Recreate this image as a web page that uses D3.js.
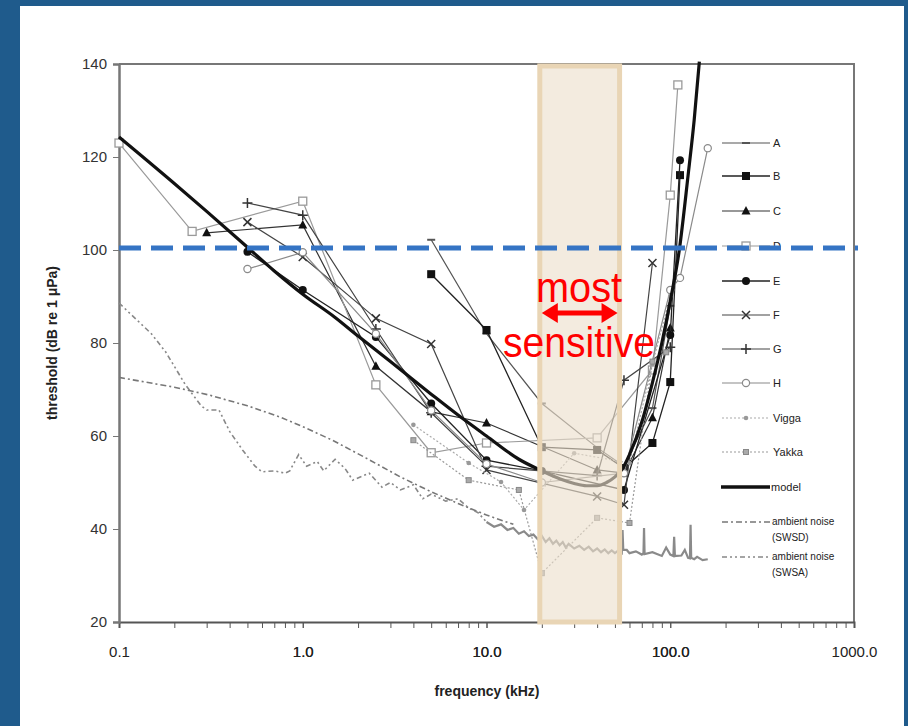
<!DOCTYPE html>
<html><head><meta charset="utf-8">
<script src="https://cdn.jsdelivr.net/npm/d3@7"></script>
<style>html,body{margin:0;padding:0;background:#1f5b8c;}svg{display:block}</style>
</head><body>
<svg id="c" width="908" height="726"></svg>
<script>
// ---- data (frequency kHz, threshold dB) ----
const seriesNames = ["A","B","C","D","E","F","G","H","Vigga","Yakka"];
const A = [[5,102.2],[10,82],[20,67],[40,57.5],[56,53.5],[80,66],[100,88]];
const B = [[5,94.8],[10,82.8],[20,57.6],[40,57],[56,53.1],[80,58.5],[100,71.6],[113,116.1]];
const C = [[0.3,103.7],[1,105.4],[2.5,75],[5,65.2],[10,62.8],[40,52.7],[56,52],[80,63.9],[100,83.2]];
const D = [[0.1,123],[0.25,104],[1,110.5],[2.5,71],[5,56.4],[10,58.5],[40,59.6],[80,74.2],[100,111.8],[110,135.5]];
const E = [[0.5,99.6],[1,91.4],[2.5,81.3],[5,67],[10,54.8],[20,52.5],[56,48.4],[100,81.7],[113,119.3]];
const F = [[0.5,106],[1,98.5],[2.5,85.3],[5,79.8],[10,52.7],[40,47],[56,45.2],[80,97.2]];
const G = [[0.5,110.1],[1,107.5],[2.5,83],[5,65],[10,53.5],[40,51.5],[56,72],[100,79.1]];
const H = [[0.5,95.9],[1,99.5],[2.5,82],[5,65.5],[10,54],[20,50],[56,52],[100,91.4],[113,94],[160,121.9]];
const Vigga = [[4,62.4],[8,54.2],[12,50.1],[16,44.1],[30,56.3],[60,54.2],[80,75.5],[100,90]];
const Yakka = [[4,59.1],[8,50.5],[15,48.4],[20,30.5],[40,42.4],[60,41.3],[80,76],[95,78]];
const model = [[0.1,124.3],[0.2,114.3],[0.3,108.3],[0.5,100.6],[0.7,95.5],[1,90.5],[1.5,85.5],[2,81.5],[3,76],[5,69],[7,64.5],[10,60],[15,55],[20,52.5],[25,50.8],[30,49.8],[35,49.3],[40,49.3],[45,50],[50,51.2],[55,53],[60,56],[70,63],[80,71.5],[90,80],[100,89],[112,100],[125,116],[135,128],[144,140.5]];
const noiseSWSD = [[0.1,72.6],[0.2,70.5],[0.31,68.8],[0.5,66.5],[0.75,64.1],[1,62],[1.45,59.1],[2.2,55.3],[3.4,51.2],[5,48],[7,45.5],[10,43],[14,41]];
const noiseSWSA = [[0.1,88.6],[0.15,82],[0.18,78],[0.23,71],[0.28,66.5],[0.3,65.6],[0.35,65.6],[0.4,61],[0.47,57],[0.55,53.5],[0.6,52.3],[0.7,52.5],[0.8,52],[0.85,52.5],[0.95,56],[1.05,53.5],[1.2,54.5],[1.3,52.5],[1.5,55],[1.7,53],[1.87,50.5],[2.3,52],[2.7,49],[3,50],[3.4,48.4],[4,49.5],[4.5,46.5],[5,47.5],[6,46],[7,46.5],[8,44.5],[9,43.5],[10,41.5]];
const noiseHF = [[10,41.5],[11,40.5],[12,41],[13,39.8],[14,40.2],[15,39],[16,39.5],[17,38.5],[18,38.8],[19,37.8],[20,38.5],[21,37.2],[22,38],[23,36.8],[24,37.5],[25,36.5],[26,37.2],[27,36],[28,36.8],[30,35.8],[32,36.4],[34,35.5],[36,36.2],[38,35.2],[40,35.8],[42,35],[44,35.6],[46,34.8],[48,35.4],[50,34.8],[53,35.6],[54.5,35],[55,39.8],[55.5,35.5],[58,35.5],[60,34.8],[65,35.2],[70,34.5],[71.5,34.8],[72,40.2],[72.5,34.6],[80,35],[90,34.2],[95,36],[100,34.5],[104,34.2],[105,38.3],[106,34.2],[115,34.3],[120,35.5],[125,33.8],[128,33.7],[129,40.9],[130,33.8],[135,33.5],[140,34],[150,33.3],[160,33.5]];
const yTicks = [20,40,60,80,100,120,140];
const xMajor = [0.1,1,10,100,1000];
const band = [19.5,53];
const refLevel = 100;

// ---- layout ----
const svg = d3.select("#c");
svg.append("rect").attr("x",20).attr("y",6).attr("width",884).attr("height",720).attr("fill","#fff");
const x = d3.scaleLog().domain([0.1,1000]).range([119,854]);
const y = d3.scaleLinear().domain([20,140]).range([622,64]);

// frame
svg.append("path").attr("d",`M119,64H854V622`).attr("fill","none").attr("stroke","#777").attr("stroke-width",2);

// axes
const xMinor = [];
for (let d=0.1; d<1000; d*=10) for (let k=1;k<=10;k++) xMinor.push(+(d*k).toPrecision(3));
const gx = svg.append("g").attr("transform","translate(0,622)")
  .call(d3.axisBottom(x).tickValues(xMinor).tickSize(6).tickPadding(18)
    .tickFormat(d => xMajor.includes(d) ? d3.format(".1f")(d) : ""));
gx.select(".domain").attr("stroke","#555").attr("stroke-width",2);
gx.selectAll(".tick line").attr("stroke","#555");
gx.selectAll("text").attr("font-family","Liberation Sans, Arial, sans-serif").attr("font-size",15).attr("fill","#222");
const gy = svg.append("g").attr("transform","translate(119,0)")
  .call(d3.axisLeft(y).tickValues(yTicks).tickSize(6).tickPadding(6));
gy.select(".domain").attr("stroke","#777").attr("stroke-width",2.5);
gy.selectAll(".tick line").attr("stroke","#777");
gy.selectAll("text").attr("font-family","Liberation Sans, Arial, sans-serif").attr("font-size",15).attr("fill","#333");

svg.append("text").attr("x",487).attr("y",696).attr("text-anchor","middle")
  .attr("font-family","Liberation Sans, Arial, sans-serif").attr("font-weight","bold").attr("font-size",14).attr("fill","#222")
  .text("frequency (kHz)");
svg.append("text").attr("transform","translate(57,343) rotate(-90)").attr("text-anchor","middle")
  .attr("font-family","Liberation Sans, Arial, sans-serif").attr("font-weight","bold").attr("font-size",14).attr("fill","#222")
  .text("threshold (dB re 1 μPa)");

const line = d3.line().x(d=>x(d[0])).y(d=>y(d[1]));
const plot = svg.append("g");

// noise
plot.append("path").datum(noiseSWSD).attr("d",line).attr("fill","none").attr("stroke","#777").attr("stroke-width",1.6).attr("stroke-dasharray","6,3,2,3");
plot.append("path").datum(noiseSWSA).attr("d",line).attr("fill","none").attr("stroke","#888").attr("stroke-width",1.6).attr("stroke-dasharray","5,3,2,3,2,3");
plot.append("path").datum(noiseHF).attr("d",line).attr("fill","none").attr("stroke","#8a8a8a").attr("stroke-width",2.2);

// series styling
const styles = {
  A:{c:"#555",w:1.2,m:"dash"}, B:{c:"#222",w:1.3,m:"sqf"}, C:{c:"#333",w:1.2,m:"tri"},
  D:{c:"#9a9a9a",w:1.2,m:"sqo"}, E:{c:"#222",w:1.3,m:"cirf"}, F:{c:"#444",w:1.2,m:"x"},
  G:{c:"#444",w:1.2,m:"plus"}, H:{c:"#8a8a8a",w:1.2,m:"ciro"},
  Vigga:{c:"#aaa",w:1.2,m:"dot",dash:"2,2"}, Yakka:{c:"#999",w:1.2,m:"sqs",dash:"2,2"}
};
const seriesData = {A,B,C,D,E,F,G,H,Vigga,Yakka};
function marker(g, type, cx, cy, col){
  const s = 4;
  if(type==="dash") g.append("path").attr("d",`M${cx-4},${cy}H${cx+4}`).attr("stroke",col).attr("stroke-width",2);
  else if(type==="sqf") g.append("rect").attr("x",cx-s).attr("y",cy-s).attr("width",2*s).attr("height",2*s).attr("fill","#111");
  else if(type==="sqo") g.append("rect").attr("x",cx-s).attr("y",cy-s).attr("width",2*s).attr("height",2*s).attr("fill","#fff").attr("stroke",col).attr("stroke-width",1.3);
  else if(type==="sqs") g.append("rect").attr("x",cx-2.5).attr("y",cy-2.5).attr("width",5).attr("height",5).attr("fill","#aaa").attr("stroke","#888");
  else if(type==="tri") g.append("path").attr("d",`M${cx},${cy-5}L${cx+4.5},${cy+3.5}L${cx-4.5},${cy+3.5}Z`).attr("fill","#111");
  else if(type==="cirf") g.append("circle").attr("cx",cx).attr("cy",cy).attr("r",4).attr("fill","#111");
  else if(type==="ciro") g.append("circle").attr("cx",cx).attr("cy",cy).attr("r",3.6).attr("fill","#fff").attr("stroke",col).attr("stroke-width",1.2);
  else if(type==="dot") g.append("circle").attr("cx",cx).attr("cy",cy).attr("r",2.3).attr("fill","#999");
  else if(type==="x") g.append("path").attr("d",`M${cx-4},${cy-4}L${cx+4},${cy+4}M${cx-4},${cy+4}L${cx+4},${cy-4}`).attr("stroke","#333").attr("stroke-width",1.5);
  else if(type==="plus") g.append("path").attr("d",`M${cx-5},${cy}H${cx+5}M${cx},${cy-5}V${cy+5}`).attr("stroke","#333").attr("stroke-width",1.5);
}
seriesNames.forEach(n=>{
  const st = styles[n], g = plot.append("g");
  g.append("path").datum(seriesData[n]).attr("d",line).attr("fill","none").attr("stroke",st.c).attr("stroke-width",st.w).attr("stroke-dasharray",st.dash||null);
  seriesData[n].forEach(d=>marker(g, st.m, x(d[0]), y(d[1]), st.c));
});
// model
plot.append("path").datum(model).attr("d",line.curve(d3.curveMonotoneX)).attr("fill","none").attr("stroke","#111").attr("stroke-width",3.2);

// legend
const legendLabels = ["A","B","C","D","E","F","G","H","Vigga","Yakka"];
const legY = [143,176,211,246,281,315,349,383,418,452];
const lg = svg.append("g").attr("font-family","Liberation Sans, Arial, sans-serif").attr("font-size",11).attr("fill","#222");
legendLabels.forEach((n,i)=>{
  const st = styles[n];
  lg.append("path").attr("d",`M722,${legY[i]}H770`).attr("stroke",st.c).attr("stroke-width",st.w).attr("stroke-dasharray",st.dash||null);
  marker(lg, st.m, 746, legY[i], st.c);
  lg.append("text").attr("x",773).attr("y",legY[i]+4).text(n);
});
lg.append("path").attr("d","M721,487H770").attr("stroke","#111").attr("stroke-width",3.5);
lg.append("text").attr("x",771).attr("y",491).text("model");
lg.append("path").attr("d","M722,522H770").attr("stroke","#777").attr("stroke-width",1.5).attr("stroke-dasharray","6,3,2,3");
lg.append("text").attr("x",772).attr("y",525).attr("font-size",10).text("ambient noise");
lg.append("text").attr("x",772).attr("y",541).attr("font-size",10).text("(SWSD)");
lg.append("path").attr("d","M722,557H770").attr("stroke","#888").attr("stroke-width",1.5).attr("stroke-dasharray","5,3,2,3,2,3");
lg.append("text").attr("x",772).attr("y",560).attr("font-size",10).text("ambient noise");
lg.append("text").attr("x",772).attr("y",576).attr("font-size",10).text("(SWSA)");

// shaded band (on top, translucent)
svg.append("rect").attr("x",x(band[0])).attr("y",y(140)+2).attr("width",x(band[1])-x(band[0])).attr("height",y(20)-y(140)-2)
  .attr("fill","#ebdecb").attr("fill-opacity",0.62).attr("stroke","#e9d5b5").attr("stroke-width",5);

// reference dashed line
svg.append("line").attr("x1",119).attr("x2",858).attr("y1",y(refLevel)-2).attr("y2",y(refLevel)-2)
  .attr("stroke","#3574c4").attr("stroke-width",5).attr("stroke-dasharray","22,10");

// annotation
const ax1 = x(band[0])+2, ax2 = x(band[1])-2, ay = 313;
svg.append("path").attr("d",`M${ax1+14},${ay}H${ax2-14}`).attr("stroke","#f00").attr("stroke-width",5);
svg.append("path").attr("d",`M${ax1},${ay}L${ax1+16},${ay-10}L${ax1+16},${ay+10}Z`).attr("fill","#f00");
svg.append("path").attr("d",`M${ax2},${ay}L${ax2-16},${ay-10}L${ax2-16},${ay+10}Z`).attr("fill","#f00");
svg.append("text").attr("x",579).attr("y",302).attr("text-anchor","middle").attr("fill","#f00")
  .attr("font-family","Liberation Sans Narrow, Arial Narrow, Liberation Sans, sans-serif").attr("font-size",42)
  .attr("textLength",86).attr("lengthAdjust","spacingAndGlyphs").text("most");
svg.append("text").attr("x",579).attr("y",357).attr("text-anchor","middle").attr("fill","#f00")
  .attr("font-family","Liberation Sans Narrow, Arial Narrow, Liberation Sans, sans-serif").attr("font-size",42)
  .attr("textLength",152).attr("lengthAdjust","spacingAndGlyphs").text("sensitive");
</script>
</body></html>
